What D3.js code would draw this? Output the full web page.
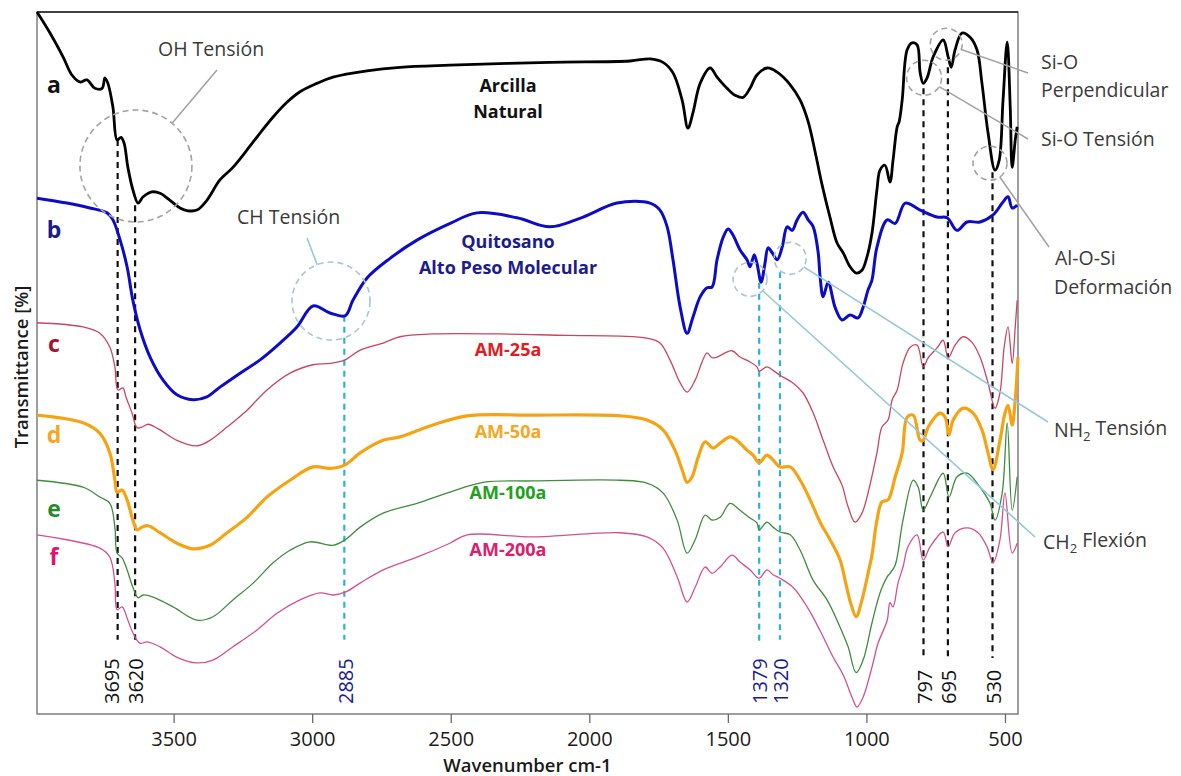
<!DOCTYPE html>
<html>
<head>
<meta charset="utf-8">
<script src="https://cdn.jsdelivr.net/npm/d3@7"></script>
<style>
  body { margin: 0; background: #fff; }
  svg { display: block; font-family: "Open Sans", sans-serif; }
</style>
</head>
<body>
<svg id="chart" width="1181" height="776"></svg>
<script>
// spectra: [wavenumber cm-1, transmittance (arbitrary %, offset stacked)]
var arcilla = [[3993,100.3],[3946,97.3],[3899,93.9],[3867,91.3],[3838,90.3],[3813,90.6],[3784,89.4],[3758,89.4],[3748,90.9],[3737,90.1],[3719,86.7],[3704,82.0],[3690,82.4],[3679,81.6],[3665,78.1],[3647,74.9],[3628,73.0],[3610,73.9],[3578,74.6],[3549,74.4],[3513,73.4],[3477,72.3],[3448,71.9],[3416,72.0],[3380,73.4],[3333,76.3],[3286,78.1],[3235,80.6],[3188,83.0],[3141,85.3],[3091,87.4],[3044,88.9],[2983,90.1],[2925,91.0],[2802,91.9],[2683,92.4],[2503,92.7],[2142,93.1],[1853,93.3],[1781,93.6],[1734,93.1],[1698,91.6],[1665,87.7],[1644,83.7],[1626,85.9],[1600,90.1],[1564,92.3],[1539,91.0],[1503,89.4],[1474,88.4],[1445,88.1],[1420,89.4],[1395,91.3],[1358,92.3],[1322,91.7],[1275,89.9],[1239,87.7],[1210,84.6],[1185,80.3],[1160,75.6],[1131,70.9],[1106,67.3],[1084,65.9],[1059,63.9],[1037,63.0],[1016,63.4],[998,65.3],[980,68.7],[962,74.9],[951,77.7],[933,78.4],[915,76.0],[904,79.1],[889,83.9],[882,84.6],[871,87.7],[853,94.9],[835,95.9],[817,95.6],[806,91.6],[795,90.1],[781,90.9],[759,93.9],[723,96.3],[705,93.9],[694,92.4],[680,94.9],[655,97.3],[626,96.7],[601,94.9],[583,90.1],[561,83.0],[536,77.7],[521,79.1],[507,87.7],[492,96.0],[481,86.7],[474,78.1],[463,82.0],[456,83.9]];

var quitosano = [[3993,73.7],[3885,73.0],[3802,72.3],[3740,71.6],[3719,70.6],[3693,67.7],[3668,63.9],[3647,59.1],[3621,54.9],[3585,51.0],[3538,47.7],[3488,45.6],[3430,44.9],[3380,45.3],[3333,46.7],[3260,48.7],[3188,50.6],[3116,53.0],[3055,55.3],[2997,58.3],[2936,57.3],[2881,56.9],[2853,59.1],[2802,62.3],[2719,65.1],[2622,67.7],[2502,70.1],[2405,71.6],[2261,70.9],[2142,69.6],[2022,71.0],[1900,73.0],[1781,73.0],[1745,72.0],[1719,69.6],[1698,64.9],[1672,58.1],[1647,54.4],[1626,56.7],[1600,59.6],[1575,60.9],[1557,61.0],[1539,64.9],[1517,68.1],[1499,69.3],[1481,68.4],[1456,66.3],[1431,64.9],[1420,63.9],[1405,65.6],[1395,64.4],[1380,61.7],[1366,64.4],[1355,66.6],[1340,65.9],[1322,64.9],[1304,66.7],[1286,69.6],[1268,69.1],[1250,70.6],[1229,71.7],[1210,70.6],[1192,69.6],[1174,65.9],[1167,62.4],[1156,59.6],[1138,61.7],[1113,58.1],[1088,56.3],[1059,57.0],[1030,56.6],[1012,58.1],[994,60.6],[980,62.0],[962,66.7],[925,70.6],[896,70.1],[860,73.0],[806,72.0],[745,71.0],[709,70.9],[673,69.1],[637,70.3],[590,70.3],[543,71.3],[510,73.0],[489,73.9],[474,72.3],[456,72.7]];

var am25 = [[3993,55.9],[3827,55.3],[3766,54.4],[3730,52.4],[3712,49.6],[3701,46.3],[3683,46.6],[3672,45.3],[3650,43.0],[3632,40.9],[3614,41.0],[3592,41.4],[3549,40.6],[3488,39.1],[3416,38.3],[3369,39.1],[3307,41.0],[3235,43.4],[3163,46.3],[3080,48.7],[2997,49.9],[2936,50.1],[2881,50.6],[2827,52.0],[2744,53.0],[2683,53.9],[2564,54.3],[2322,54.3],[2080,54.1],[1889,54.0],[1792,53.7],[1745,53.0],[1709,50.6],[1672,47.3],[1647,46.0],[1618,47.7],[1593,50.3],[1575,51.6],[1557,50.9],[1539,51.0],[1485,51.9],[1456,51.0],[1420,50.3],[1395,49.6],[1387,49.0],[1359,49.6],[1337,49.1],[1312,48.4],[1265,47.3],[1229,45.9],[1192,43.0],[1156,39.1],[1120,35.3],[1088,32.7],[1066,29.6],[1041,27.4],[1016,28.7],[994,31.6],[962,37.3],[944,41.0],[922,42.0],[907,44.9],[889,46.3],[868,50.1],[842,52.4],[817,52.7],[795,49.6],[777,50.9],[745,52.3],[723,53.4],[705,50.9],[680,52.7],[651,53.9],[619,53.1],[590,51.0],[561,47.3],[536,43.7],[518,45.9],[503,52.4],[489,55.3],[474,50.1],[463,55.3],[456,59.1]];

var am50 = [[3993,42.7],[3827,41.6],[3766,40.1],[3730,37.3],[3712,33.4],[3704,31.7],[3686,32.0],[3668,30.6],[3647,27.7],[3632,26.3],[3614,26.7],[3592,26.9],[3549,25.9],[3488,24.4],[3430,23.6],[3369,24.1],[3307,25.9],[3235,28.1],[3163,31.0],[3080,33.4],[2997,35.3],[2936,35.1],[2881,35.6],[2827,37.3],[2744,39.1],[2683,39.6],[2564,41.3],[2441,42.6],[2203,42.7],[1889,42.6],[1792,42.0],[1734,40.6],[1691,37.7],[1665,34.9],[1647,33.1],[1629,33.9],[1607,36.7],[1582,38.9],[1553,38.0],[1528,38.7],[1492,39.6],[1467,39.1],[1431,37.7],[1409,37.0],[1387,35.9],[1359,37.0],[1337,36.3],[1312,35.3],[1275,35.3],[1239,33.4],[1203,30.6],[1167,27.4],[1131,24.9],[1095,22.0],[1073,18.4],[1055,15.6],[1037,13.9],[1016,16.3],[994,20.1],[980,22.7],[962,27.7],[944,30.3],[922,30.6],[896,33.9],[871,37.3],[853,42.4],[831,42.7],[806,39.1],[795,39.1],[777,41.0],[734,43.0],[716,42.4],[702,39.9],[687,42.0],[651,43.7],[615,43.0],[583,40.6],[561,37.3],[543,34.9],[518,39.1],[500,43.0],[489,44.1],[474,41.3],[463,44.9],[453,51.0]];

var am100 = [[3993,33.4],[3827,32.4],[3766,31.0],[3730,30.1],[3712,26.7],[3704,23.0],[3686,22.3],[3668,20.6],[3647,18.1],[3628,16.6],[3610,17.0],[3574,16.7],[3502,15.3],[3416,13.4],[3358,13.9],[3286,16.3],[3213,18.7],[3141,21.6],[3080,23.4],[3008,24.6],[2925,24.1],[2881,24.9],[2827,26.7],[2744,28.7],[2622,30.1],[2503,31.7],[2383,33.1],[2203,33.3],[1889,33.4],[1792,33.0],[1734,31.6],[1683,27.7],[1647,23.0],[1618,24.9],[1582,28.4],[1557,27.7],[1528,28.1],[1492,30.1],[1456,29.1],[1420,28.0],[1395,27.3],[1387,26.3],[1359,27.4],[1337,26.7],[1312,26.0],[1275,25.6],[1239,23.4],[1192,19.1],[1142,16.3],[1095,12.4],[1066,9.6],[1037,5.9],[1012,7.7],[980,13.0],[951,17.3],[925,19.6],[915,20.1],[896,21.3],[868,27.7],[831,33.4],[813,32.4],[795,29.1],[770,31.0],[723,34.4],[702,31.0],[673,33.9],[637,34.4],[590,32.4],[554,30.1],[536,27.7],[510,31.6],[492,41.6],[474,29.1],[456,33.9]];

var am200 = [[3993,25.6],[3766,23.7],[3730,22.4],[3712,18.7],[3704,14.9],[3686,15.3],[3665,13.4],[3647,11.6],[3621,10.1],[3596,10.3],[3549,9.6],[3488,8.1],[3416,7.3],[3358,7.7],[3286,9.6],[3199,12.0],[3127,14.4],[3044,16.3],[2972,17.3],[2925,17.0],[2881,17.4],[2827,18.7],[2744,20.6],[2622,22.4],[2503,24.4],[2441,25.6],[2203,25.3],[1889,25.9],[1792,25.3],[1734,23.7],[1683,19.6],[1647,16.0],[1618,18.1],[1582,21.0],[1557,20.1],[1528,21.0],[1485,22.7],[1456,21.7],[1420,20.6],[1387,19.4],[1359,20.6],[1337,19.9],[1312,19.4],[1265,18.1],[1214,15.3],[1167,11.9],[1120,8.1],[1084,5.6],[1052,2.4],[1034,1.0],[1012,2.4],[980,6.7],[958,10.1],[925,13.4],[915,15.9],[904,15.3],[886,18.7],[868,21.0],[850,23.9],[817,25.6],[795,22.0],[770,23.9],[723,26.0],[705,23.9],[680,25.9],[637,26.6],[597,25.9],[565,23.9],[543,21.6],[518,24.9],[500,31.6],[474,23.0],[456,24.4]];

var seriesKeys = ["a", "b", "c", "d", "e", "f"];
var seriesNames = [["Arcilla", "Natural"], ["Quitosano", "Alto Peso Molecular"], ["AM-25a"], ["AM-50a"], ["AM-100a"], ["AM-200a"]];
var seriesData = [arcilla, quitosano, am25, am50, am100, am200];

var xTicks = [3500, 3000, 2500, 2000, 1500, 1000, 500];

// reference lines: label, drawn position, top and bottom (transmittance units)
var markLabels = ["3695", "3620", "2885", "1379", "1320", "797", "695", "530"];
var markPos    = [3702, 3639, 2884, 1387, 1312, 794, 706, 545];
var markTop    = [82.0, 72.7, 56.9, 61.6, 63.1, 89.4, 92.4, 77.4];
var markBottom = [10.6, 10.6, 10.6, 10.1, 10.6, 8.0, 8.0, 8.0];
var markGroup  = ["clay", "clay", "chit", "chit", "chit", "clay", "clay", "clay"];

// band annotations: circled spot on the spectra
var bandNames  = ["OH Tensión", "CH Tensión", "Si-O Perpendicular", "Si-O Tensión", "Al-O-Si Deformación", "NH2 Tensión", "CH2 Flexión"];
var bandPos    = [3636, 2932, 712, 792, 554, 1275, 1420];
var bandT      = [78.3, 59.0, 95.7, 90.9, 78.7, 65.1, 62.1];

var margin = {top: 12, left: 37},
    width = 981, height = 702;

var svg = d3.select("#chart");
var g = svg.append("g").attr("transform", "translate(" + margin.left + "," + margin.top + ")");

var x = d3.scaleLinear().domain([3993, 453]).range([0, width]);
var y = d3.scaleLinear().domain([0, 100.3]).range([height, 0]);

var lineColors  = ["#000000", "#0c0cc8", "#c8465f", "#f6a313", "#3f8c3f", "#d5508e"];
var lineWidths  = [2.8, 3, 1.3, 3.2, 1.3, 1.3];
var letterColors = ["#111111", "#1c1c8c", "#a8102c", "#f5a623", "#2a8a2a", "#e0146e"];
var nameColors  = ["#111111", "#1c1c8c", "#e01b24", "#f5a623", "#22a022", "#d8206e"];

// frame
g.append("rect")
  .attr("width", width).attr("height", height)
  .attr("fill", "none").attr("stroke", "#6a6a6a").attr("stroke-width", 1.3);
g.append("line").attr("x1", 0).attr("x2", width).attr("y1", 0).attr("y2", 0)
  .attr("stroke", "#222").attr("stroke-width", 1.3);

// x axis
var xAxis = d3.axisBottom(x).tickValues(xTicks).tickSize(9).tickPadding(9).tickFormat(d3.format("d"));
var ax = g.append("g").attr("transform", "translate(0," + height + ")").call(xAxis);
ax.select(".domain").remove();
ax.selectAll(".tick line").attr("stroke", "#6a6a6a").attr("stroke-width", 1.3);
ax.selectAll(".tick text").attr("font-size", 20).attr("fill", "#1a1a1a")
  .attr("font-family", "Open Sans, sans-serif");

svg.append("text").attr("x", margin.left + width / 2).attr("y", 772)
  .attr("text-anchor", "middle").attr("font-size", 18.5).attr("font-weight", 600)
  .attr("fill", "#1a1a1a").text("Wavenumber cm-1");

svg.append("text").attr("transform", "translate(28,367) rotate(-90)")
  .attr("text-anchor", "middle").attr("font-size", 18.5).attr("font-weight", 600)
  .attr("fill", "#1a1a1a").text("Transmittance [%]");

// marker lines
var marks = markLabels.map(function(l, i) {
  return {label: l, pos: markPos[i], top: markTop[i], bottom: markBottom[i], group: markGroup[i]};
});
g.selectAll(".mark").data(marks).enter().append("line")
  .attr("class", "mark")
  .attr("x1", function(d) { return x(d.pos); })
  .attr("x2", function(d) { return x(d.pos); })
  .attr("y1", function(d) { return y(d.top); })
  .attr("y2", function(d) { return y(d.bottom); })
  .attr("stroke", function(d) { return d.group == "clay" ? "#111" : "#2fb2d6"; })
  .attr("stroke-width", 2.2)
  .attr("stroke-dasharray", "6,5");

g.selectAll(".markLabel").data(marks).enter().append("text")
  .attr("class", "markLabel")
  .attr("transform", function(d) {
    var dx = d.label == "3695" ? -6 : 1;
    return "translate(" + (x(d.pos) + dx) + "," + (height - 10) + ") rotate(-90)";
  })
  .attr("dy", "0.36em")
  .attr("font-size", 20)
  .attr("fill", function(d) { return d.group == "clay" ? "#111" : "#1c1c8c"; })
  .text(function(d) { return d.label; });

// spectra
var line = d3.line()
  .x(function(d) { return x(d[0]); })
  .y(function(d) { return y(d[1]); })
  .curve(d3.curveCatmullRom.alpha(0.5));

g.selectAll(".spec").data(seriesData).enter().append("path")
  .attr("class", "spec")
  .attr("d", line)
  .attr("fill", "none")
  .attr("stroke", function(d, i) { return lineColors[i]; })
  .attr("stroke-width", function(d, i) { return lineWidths[i]; })
  .attr("stroke-linejoin", "round");

// series letters
var letterY = [93, 238, 352, 443, 517, 565];
svg.selectAll(".letter").data(seriesKeys).enter().append("text")
  .attr("class", "letter")
  .attr("x", 54).attr("y", function(d, i) { return letterY[i]; })
  .attr("text-anchor", "middle")
  .attr("font-size", 23).attr("font-weight", 700)
  .attr("fill", function(d, i) { return letterColors[i]; })
  .text(function(d) { return d; });

// series names
var nameY = [86, 242, 350, 432, 493, 550];
seriesNames.forEach(function(lines, i) {
  lines.forEach(function(t, j) {
    svg.append("text")
      .attr("x", 508).attr("y", nameY[i] + j * 26)
      .attr("dy", "0.35em")
      .attr("text-anchor", "middle")
      .attr("font-size", 18).attr("font-weight", 700)
      .attr("fill", nameColors[i])
      .text(t);
  });
});

// band annotations
var grayC = "#a3a3a3", blueC = "#a9c6d2", blueL = "#95c8d8";
var bandR     = [56, 39, 16, 17.5, 17, 16, 17];
var bandCirc  = [grayC, blueC, grayC, grayC, grayC, blueC, blueC];
var bandLeadC = [grayC, blueL, grayC, grayC, grayC, blueL, blueL];
var bandEnd   = [[217, 70], [307, 238], [1028, 73], [1028, 139], [1049, 247], [1048, 422], [1035, 537]];
var bandText  = [
  [[158, 49, "OH Tensión"]],
  [[237, 217, "CH Tensión"]],
  [[1041, 62, "Si-O"], [1041, 90, "Perpendicular"]],
  [[1041, 139, "Si-O Tensión"]],
  [[1055, 258, "Al-O-Si"], [1054, 287, "Deformación"]],
  [[1054, 430, "NH|2| Tensión"]],
  [[1043, 542, "CH|2| Flexión"]]
];

bandNames.forEach(function(name, i) {
  var cx = margin.left + x(bandPos[i]), cy = margin.top + y(bandT[i]), r = bandR[i];
  svg.append("circle").attr("cx", cx).attr("cy", cy).attr("r", r)
    .attr("fill", "none").attr("stroke", bandCirc[i]).attr("stroke-width", 1.6)
    .attr("stroke-dasharray", "6,4");
  var ex = bandEnd[i][0], ey = bandEnd[i][1];
  var dx = ex - cx, dy = ey - cy, len = Math.sqrt(dx * dx + dy * dy);
  svg.append("line")
    .attr("x1", cx + r * dx / len).attr("y1", cy + r * dy / len)
    .attr("x2", ex).attr("y2", ey)
    .attr("stroke", bandLeadC[i]).attr("stroke-width", 1.6);
  bandText[i].forEach(function(t) {
    var txt = svg.append("text").attr("x", t[0]).attr("y", t[1]).attr("dy", "0.35em")
      .attr("font-size", 19.5).attr("fill", "#3a3a3a");
    var parts = t[2].split("|");
    parts.forEach(function(p, k) {
      if (k % 2 == 1) {
        txt.append("tspan").attr("font-size", 13).attr("dy", "0.3em").text(p);
      } else {
        var ts = txt.append("tspan").text(p);
        if (k > 0) ts.attr("dy", "-0.3em");
      }
    });
  });
});
</script>
</body>
</html>
